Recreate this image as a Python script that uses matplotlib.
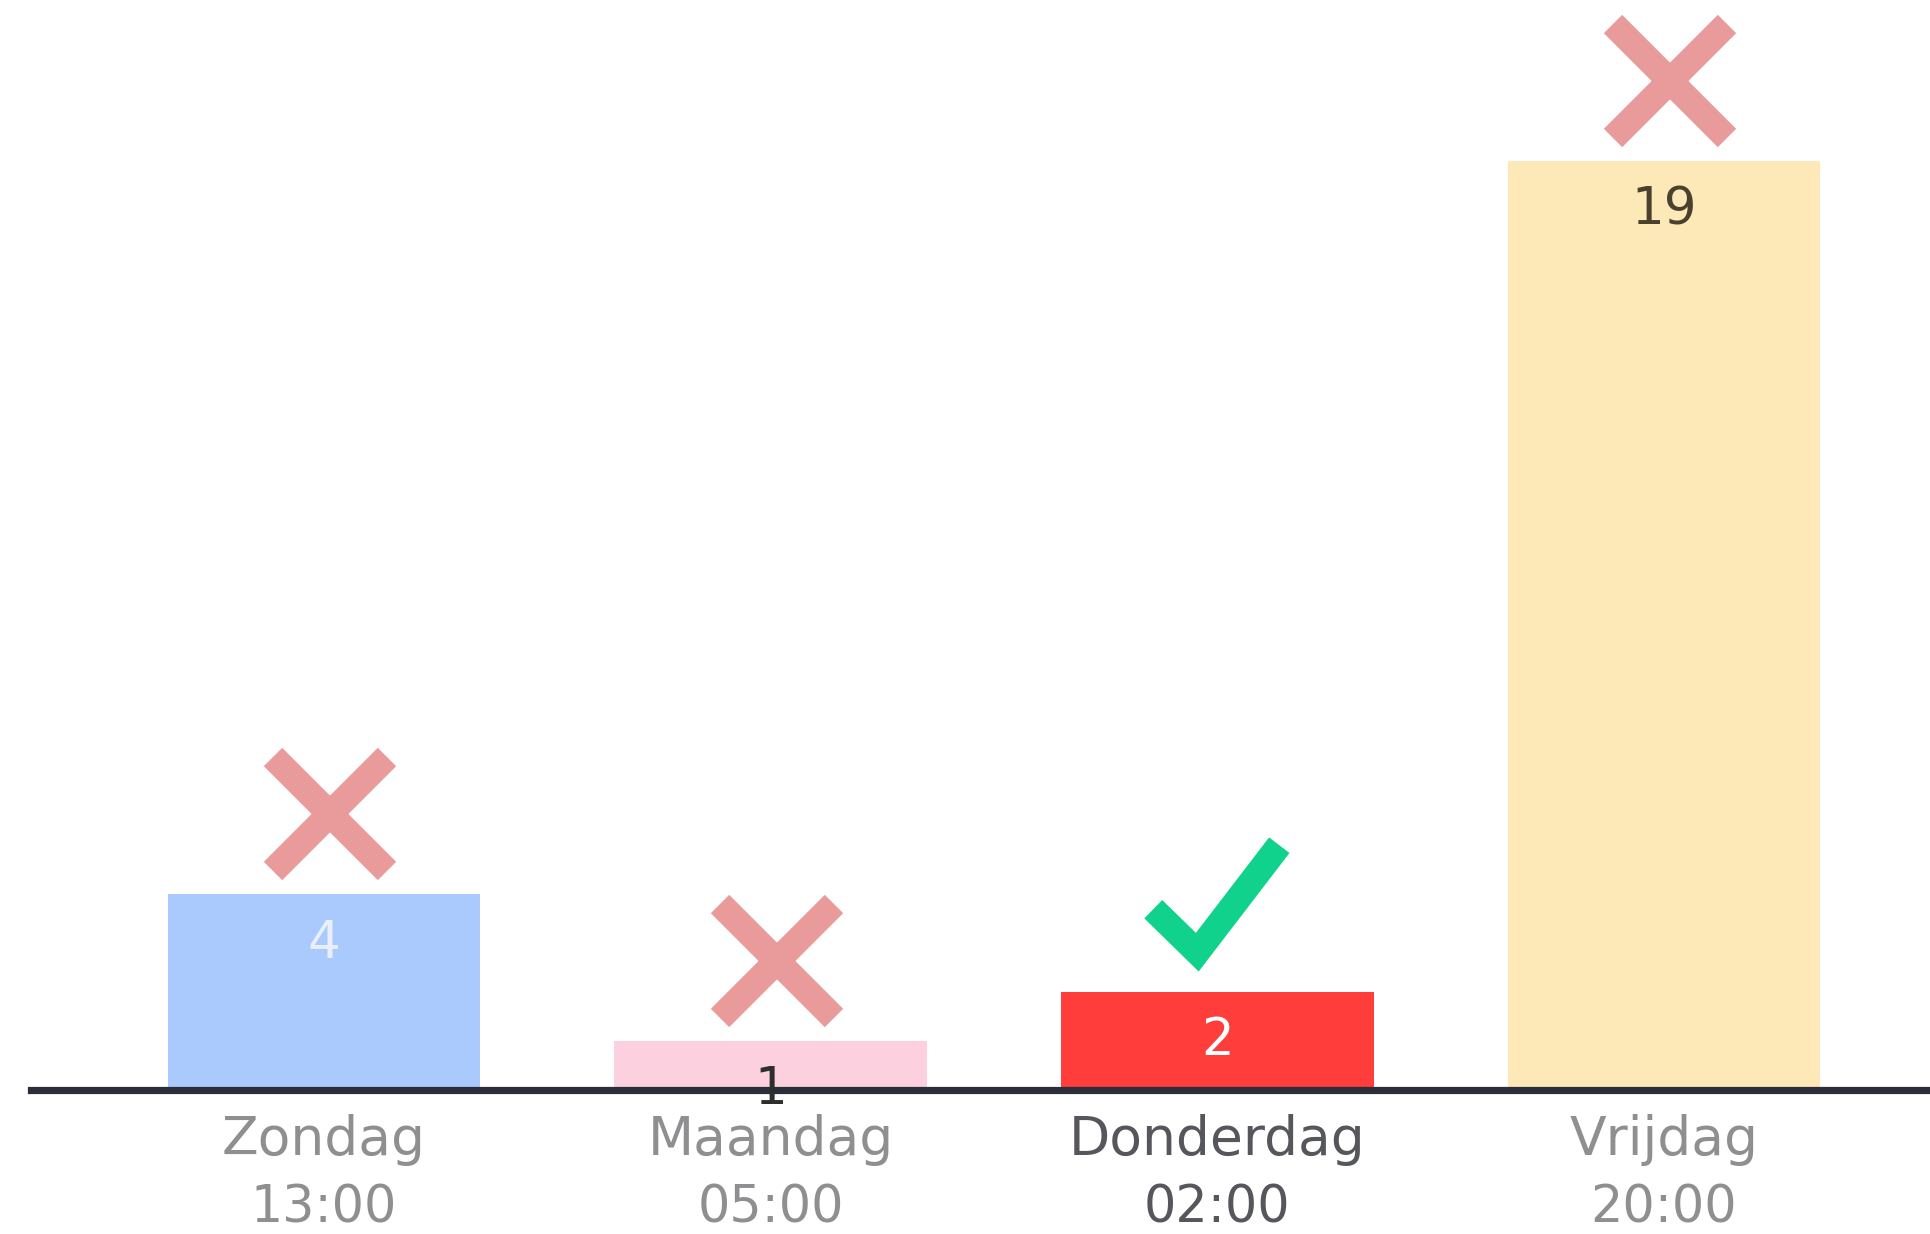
import matplotlib
matplotlib.use("Agg")
import matplotlib.pyplot as plt
from matplotlib.markers import MarkerStyle
from matplotlib import transforms

# ---- data ----
days = ["Zondag", "Maandag", "Donderdag", "Vrijdag"]
times = ["13:00", "05:00", "02:00", "20:00"]
values = [4, 1, 2, 19]
correct = [False, False, True, False]

# ---- styles ----
bar_colors = ["#aac9fd", "#fcd0df", "#ff3d3a", "#fde8b8"]
value_colors = ["#e8efff", "#2e2e2e", "#ffffff", "#4a412c"]
label_colors = ["#8f8f91", "#8f8f91", "#55575c", "#8f8f91"]
cross_color = "#e99a9a"
check_color = "#10d28c"
font = ["DejaVu Sans"]

# check glyph shape (pixels relative to top-centre of its bar)
check_shape_x = [-64, -20, 62]
check_shape_y = [83, 40, 147]

W, H, DPI = 1931, 1234, 100
fig = plt.figure(figsize=(W / DPI, H / DPI), dpi=DPI)
ax = fig.add_axes([0, 0, 1, 1])
ax.set_xlim(-0.7255, 3.598)
ax.set_ylim(-2.945, 22.29)
ax.axis("off")

x = list(range(len(values)))
ax.bar(x, values, width=0.7, color=bar_colors, zorder=1)

# baseline
ax.axhline(0, xmin=31 / W, xmax=1, color="#2a2e38", lw=5.2, zorder=2)

# value labels inside top of bars
for i, v in enumerate(values):
    ax.annotate(str(v), xy=(i, v), xytext=(0, -45.5), textcoords="offset points",
                ha="center", va="baseline", fontsize=37, color=value_colors[i],
                family=font, zorder=3)

# category labels
for i in x:
    ax.annotate(days[i], xy=(i, 0), xytext=(0, -47), textcoords="offset points",
                ha="center", va="baseline", fontsize=38.5, color=label_colors[i],
                family=font, annotation_clip=False)
    ax.annotate(times[i], xy=(i, 0), xytext=(0, -95.5), textcoords="offset points",
                ha="center", va="baseline", fontsize=36.5, color=label_colors[i],
                family=font, annotation_clip=False)

# markers above bars
mark_trans = transforms.offset_copy(ax.transData, fig=fig, x=4.3, y=57.6, units="points")
cross_marker = MarkerStyle("x", capstyle="butt")
for i, v in enumerate(values):
    if correct[i]:
        tr = transforms.Affine2D() + transforms.ScaledTranslation(i, v, ax.transData)
        ax.plot(check_shape_x, check_shape_y, color=check_color, lw=18.5,
                solid_joinstyle="miter", solid_capstyle="butt",
                transform=tr, clip_on=False)
    else:
        ax.plot([i], [v], marker=cross_marker, markersize=82.5, markeredgewidth=18.7,
                markeredgecolor=cross_color, linestyle="none",
                transform=mark_trans, clip_on=False)

fig.savefig("out.png", dpi=DPI, facecolor="white")
